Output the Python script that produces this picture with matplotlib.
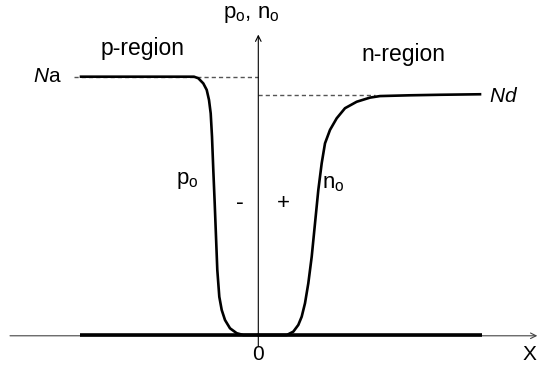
import numpy as np
import matplotlib
matplotlib.use('Agg')
import matplotlib.pyplot as plt

plt.rcParams['font.family'] = ['Liberation Sans', 'DejaVu Sans']
plt.rcParams['mathtext.fontset'] = 'custom'
plt.rcParams['mathtext.rm'] = 'Liberation Sans'
plt.rcParams['mathtext.it'] = 'Liberation Sans:italic'

# doping levels (normalised to Na)
Na = 1.0
Nd = 0.928

# hole concentration across the p side
p_x = [-1.773, -0.643, -0.600, -0.550, -0.516, -0.493, -0.476, -0.463, -0.450,
       -0.436, -0.423, -0.410, -0.390, -0.366, -0.333, -0.283, -0.216, -0.150, 0.0]
p_y = [1.0, 1.0, 0.994, 0.974, 0.949, 0.910, 0.858, 0.768, 0.639,
       0.510, 0.381, 0.252, 0.148, 0.097, 0.058, 0.026, 0.007, 0.0, 0.0]

# electron concentration across the n side
n_x = [0.0, 0.284, 0.350, 0.400, 0.434, 0.467, 0.500, 0.534, 0.567, 0.600,
       0.634, 0.667, 0.717, 0.784, 0.867, 0.984, 1.117, 1.217, 1.517, 1.817, 2.217]
n_y = [0.0, 0.0, 0.013, 0.039, 0.071, 0.123, 0.200, 0.303, 0.432, 0.561,
       0.665, 0.742, 0.794, 0.839, 0.878, 0.903, 0.919, 0.925, 0.928, 0.930, 0.932]

base_x = [-1.785, 2.235]

fig = plt.figure(figsize=(5.39, 3.65), dpi=100)
ax = fig.add_axes([0, 0, 1, 1])
ax.set_xlim(-2.583, 2.807)
ax.set_ylim(-0.1161, 1.2969)
ax.axis('off')

# axes with open arrowheads
ax.annotate('', xy=(2.79, -0.003), xytext=(-2.483, -0.003),
            arrowprops=dict(arrowstyle='->', lw=0.8, color='#444444',
                            shrinkA=0, shrinkB=0, mutation_scale=10))
ax.annotate('', xy=(0, 1.163), xytext=(0, -0.045),
            arrowprops=dict(arrowstyle='->', lw=0.8, color='black',
                            shrinkA=0, shrinkB=0, mutation_scale=10))

# reference levels
ax.plot([-1.84, 0], [Na, Na], color='#555555', lw=1, ls=(0, (3, 2.2)), zorder=1)
ax.plot([0, 1.17], [Nd, Nd], color='#555555', lw=1, ls=(0, (3, 2.2)), zorder=1)

ax.plot(base_x, [0, 0], color='black', lw=2.6, solid_capstyle='butt', zorder=3)
ax.plot(p_x, p_y, color='black', lw=1.9, zorder=4, solid_joinstyle='round')
ax.plot(n_x, n_y, color='black', lw=1.9, zorder=4, solid_joinstyle='round')

fs = 15
ax.text(-0.073, 1.239, r'p$_\mathrm{o}$, n$_\mathrm{o}$', ha='center', va='center', fontsize=16)
ax.text(-1.153, 1.111, 'p-region', ha='center', va='center', fontsize=16.5)
ax.text(1.447, 1.084, 'n-region', ha='center', va='center', fontsize=16.5)
ax.text(-1.963, Na, r'$\mathit{N}$a', ha='right', va='center', fontsize=fs)
ax.text(2.307, Nd - 0.004, r'$\mathit{Nd}$', ha='left', va='center', fontsize=fs)
ax.text(-0.713, 0.600, r'p$_\mathrm{o}$', ha='center', va='center', fontsize=16)
ax.text(0.747, 0.588, r'n$_\mathrm{o}$', ha='center', va='center', fontsize=16)
ax.text(-0.183, 0.510, '-', ha='center', va='center', fontsize=17)
ax.text(0.25, 0.510, '+', ha='center', va='center', fontsize=16)
ax.text(0, -0.077, '0', ha='center', va='center', fontsize=fs)
ax.text(2.78, -0.077, 'X', ha='right', va='center', fontsize=fs)

fig.savefig('out.png', dpi=100)
